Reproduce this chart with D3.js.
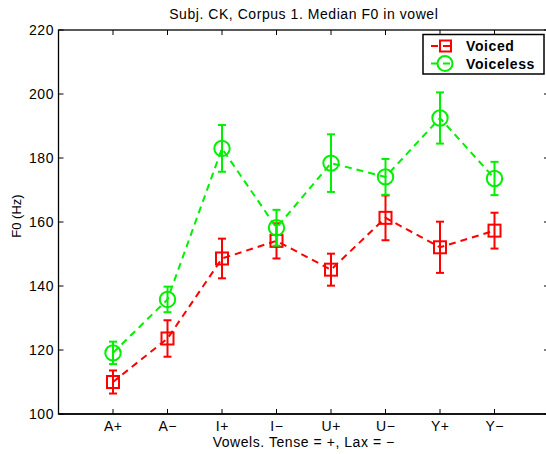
<!DOCTYPE html>
<html><head><meta charset="utf-8">
<script src="https://cdn.jsdelivr.net/npm/d3@7"></script>
<style>body{margin:0;background:#fff}svg{display:block;font-family:"Liberation Sans",Arial,sans-serif}</style>
</head><body><svg id="c" width="546" height="454"></svg>
<script>
const categories = ["A+","A\u2212","I+","I\u2212","U+","U\u2212","Y+","Y\u2212"];
const voiced      = [110, 123.6, 148.6, 154.1, 145.1, 161.3, 152.1, 157.3];
const voicedErr   = [3.6, 5.7, 6.2, 5.5, 5.0, 7.0, 8.0, 5.6];
const voiceless    = [119.1, 135.8, 183.0, 158.2, 178.4, 174.1, 192.5, 173.6];
const voicelessErr = [3.5, 4.0, 7.3, 5.6, 9.0, 5.6, 8.0, 5.2];
const yTicks = [100,120,140,160,180,200,220];
const titleText = "Subj. CK, Corpus 1. Median F0 in vowel";
const xLabel = "Vowels. Tense = +, Lax = \u2212";
const yLabel = "F0 (Hz)";
const seriesNames = ["Voiced","Voiceless"];

const svg = d3.select("#c");
const L=58.5, R=549, T=30, B=414;
const x = d3.scaleLinear().domain([0,9]).range([L,R]);
const y = d3.scaleLinear().domain([100,220]).range([B,T]);
const FS = 14, LS = "0.55px";

const g = svg.append("g");
g.append("rect").attr("x",L).attr("y",T).attr("width",R-L).attr("height",B-T)
 .attr("fill","none").attr("stroke","#000").attr("stroke-width",1.3);
g.append("line").attr("x1",L).attr("x2",R).attr("y1",B).attr("y2",B).attr("stroke","#000").attr("stroke-width",1.7);

const xs = d3.range(1,9);
xs.forEach((v,i)=>{
  g.append("line").attr("x1",x(v)).attr("x2",x(v)).attr("y1",B).attr("y2",B-5).attr("stroke","#000");
  g.append("line").attr("x1",x(v)).attr("x2",x(v)).attr("y1",T).attr("y2",T+5).attr("stroke","#000");
  g.append("text").attr("x",x(v)+0.3).attr("y",430.5).attr("text-anchor","middle")
   .attr("font-size",FS).attr("letter-spacing",LS).text(categories[i]);
});
yTicks.forEach(v=>{
  g.append("line").attr("x1",L).attr("x2",L+5).attr("y1",y(v)).attr("y2",y(v)).attr("stroke","#000");
  g.append("line").attr("x1",R).attr("x2",R-5).attr("y1",y(v)).attr("y2",y(v)).attr("stroke","#000");
  g.append("text").attr("x",L-4.5).attr("y",y(v)+5).attr("text-anchor","end")
   .attr("font-size",FS).attr("letter-spacing",LS).text(v);
});

svg.append("text").attr("x",(L+R)/2).attr("y",19).attr("text-anchor","middle").attr("font-size",FS).attr("letter-spacing",LS).text(titleText);
svg.append("text").attr("x",(L+R)/2).attr("y",447).attr("text-anchor","middle").attr("font-size",FS).attr("letter-spacing",LS).text(xLabel);
svg.append("text").attr("transform","translate(21,216) rotate(-90)").attr("text-anchor","middle").attr("font-size",13).text(yLabel);

function drawMarker(cx,cy,color,marker){
  if(marker==="square"){
    svg.append("rect").attr("x",cx-6).attr("y",cy-6).attr("width",12).attr("height",12)
      .attr("fill","none").attr("stroke",color).attr("stroke-width",2);
  } else {
    svg.append("circle").attr("cx",cx).attr("cy",cy).attr("r",7.7)
      .attr("fill","none").attr("stroke",color).attr("stroke-width",2);
  }
}
function drawSeries(vals, errs, color, marker){
  const line = d3.line().x((d,i)=>x(i+1)).y(d=>y(d));
  svg.append("path").attr("d",line(vals)).attr("fill","none").attr("stroke",color)
    .attr("stroke-width",2).attr("stroke-dasharray","7,5");
  vals.forEach((v,i)=>{
    const cx=x(i+1), e=errs[i];
    svg.append("line").attr("x1",cx).attr("x2",cx).attr("y1",y(v-e)).attr("y2",y(v+e)).attr("stroke",color).attr("stroke-width",2);
    [v-e,v+e].forEach(w=>svg.append("line").attr("x1",cx-4).attr("x2",cx+4).attr("y1",y(w)).attr("y2",y(w)).attr("stroke",color).attr("stroke-width",2));
    drawMarker(cx,y(v),color,marker);
  });
}
drawSeries(voiced, voicedErr, "#ff0000", "square");
drawSeries(voiceless, voicelessErr, "#00f000", "circle");

const lg = svg.append("g");
lg.append("rect").attr("x",423).attr("y",34.5).attr("width",121).attr("height",39.5)
  .attr("fill","#fff").attr("stroke","#000").attr("stroke-width",1.5);
const rows=[{n:seriesNames[0],c:"#ff0000",m:"square",y:46},{n:seriesNames[1],c:"#00f000",m:"circle",y:63.5}];
rows.forEach(r=>{
  lg.append("line").attr("x1",431).attr("x2",452).attr("y1",r.y).attr("y2",r.y).attr("stroke",r.c).attr("stroke-width",2).attr("stroke-dasharray","7,5");
  if(r.m==="square"){
    lg.append("rect").attr("x",440).attr("y",r.y-5.5).attr("width",11).attr("height",11).attr("fill","none").attr("stroke",r.c).attr("stroke-width",2);
  } else {
    lg.append("circle").attr("cx",445).attr("cy",r.y).attr("r",7.5).attr("fill","none").attr("stroke",r.c).attr("stroke-width",2);
  }
  lg.append("text").attr("x",466).attr("y",r.y+5).attr("font-size",14).attr("font-weight","bold").attr("letter-spacing","0.6px").text(r.n);
});
</script></body></html>
